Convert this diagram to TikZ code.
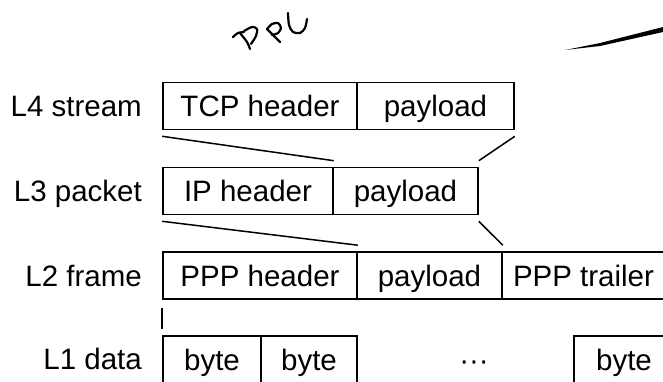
\documentclass[tikz,border=0pt]{standalone}
\usepackage{fontspec}
\setmainfont{Liberation Sans}
\begin{document}
\begin{tikzpicture}[x=1pt,y=-1pt,
    cell/.style={draw,line width=1.6pt,minimum height=47pt,inner sep=0pt,
      text height=21pt,text depth=0pt,font=\fontsize{29.5}{34}\selectfont},
    layer/.style={anchor=east,inner sep=0pt,text height=21pt,text depth=0pt,
      font=\fontsize{29.5}{34}\selectfont},
    ink/.style={line width=2.2pt,line cap=round,line join=round}]
  \useasboundingbox (0,0) rectangle (663,381);
  \clip (0,0) rectangle (663,381);
  % layer names
  \node[layer] (l4) at (142,106) {L4 stream};
  \node[layer] (l3) at (142,191) {L3 packet};
  \node[layer] (l2) at (142,275.5) {L2 frame};
  \node[layer] (l1) at (142,359) {L1 data};
  % L4
  \node[cell,minimum width=194pt] (tcp) at (260,106) {TCP header};
  \node[cell,minimum width=157pt] (l4pay) at (435.5,106) {payload};
  % L3
  \node[cell,minimum width=170pt] (ip) at (248,191) {IP header};
  \node[cell,minimum width=145pt] (l3pay) at (405.5,191) {payload};
  % L2
  \node[cell,minimum width=194pt] (ppphdr) at (260,275.5) {PPP header};
  \node[cell,minimum width=145pt] (l2pay) at (429.5,275.5) {payload};
  \node[cell,minimum width=163pt] (ppptrl) at (583.5,275.5) {PPP trailer};
  % L1
  \node[cell,minimum width=98pt] (byte1) at (212,359.5) {byte};
  \node[cell,minimum width=96pt] (byte2) at (309,359.5) {byte};
  \node[layer,anchor=center] (dots) at (474,359.5) {···};
  \node[cell,minimum width=100pt] (byten) at (624,359.5) {byte};
  \begin{scope}[line width=1.5pt]
    \draw ([yshift=-6pt]tcp.south west) -- ([yshift=6pt]ip.north east);
    \draw ([yshift=-6pt]l4pay.south east) -- ([yshift=6pt]l3pay.north east);
    \draw ([yshift=-6pt]ip.south west) -- ([yshift=6pt]ppphdr.north east);
    \draw ([yshift=-6pt]l3pay.south east) -- ([yshift=6pt]l2pay.north east);
    \draw ([yshift=-8pt]ppphdr.south west) -- ([yshift=6pt]byte1.north west);
  \end{scope}
  % handwritten note
  \draw[ink] plot[smooth] coordinates {(233,37) (238,33) (244,32)};
  \draw[ink] plot[smooth] coordinates {(240,33) (247,42) (250,49)};
  \draw[ink] plot[smooth] coordinates {(244,31) (252,27) (257,29) (256,36) (251,44)};
  \draw[ink] (267,29) -- (280,42);
  \draw[ink] plot[smooth] coordinates {(267,29) (272,24) (278,23) (281,28) (278,33) (272,35)};
  \draw[ink] plot[smooth] coordinates {(288,13) (289,25) (293,32) (300,33) (305,28) (307,19)};
  \fill (565,50) -- (600,43) -- (663,27) -- (663,32) -- (600,46) -- cycle;
\end{tikzpicture}
\end{document}
